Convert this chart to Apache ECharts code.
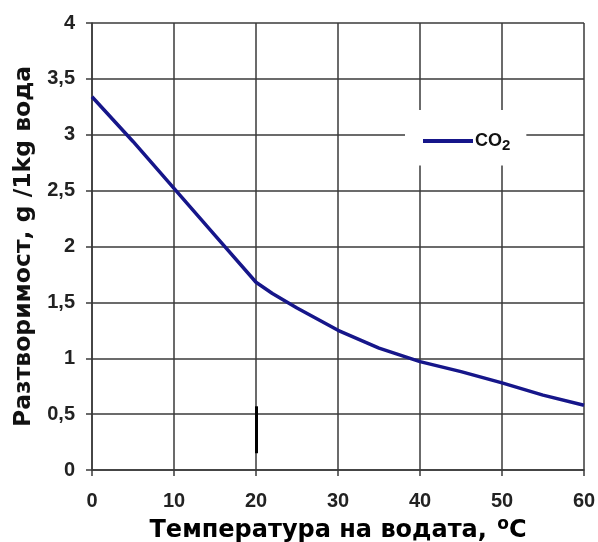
<!DOCTYPE html>
<html>
<head>
<meta charset="utf-8">
<script src="https://cdn.jsdelivr.net/npm/echarts@6/dist/echarts.min.js"></script>
<style>html,body{margin:0;padding:0;background:#fff}#c{width:598px;height:542px}</style>
</head>
<body>
<div id="c"></div>
<script>
var temps = [0, 5, 10, 15, 20, 22, 25, 30, 35, 40, 45, 50, 55, 60];
var co2 = [3.34, 2.94, 2.52, 2.1, 1.68, 1.58, 1.45, 1.25, 1.09, 0.97, 0.88, 0.78, 0.67, 0.58];
var xTicks = [0, 10, 20, 30, 40, 50, 60];
var yTicks = [0, 0.5, 1, 1.5, 2, 2.5, 3, 3.5, 4];
var markX = 20, markY = [0.15, 0.57];

var chart = echarts.init(document.getElementById('c'));
var grid = '#3a3a3a';
chart.setOption({
  animation: false,
  backgroundColor: '#fff',
  grid: { left: 92, right: 14, top: 23, bottom: 72, outerBoundsMode: 'none', containLabel: false },
  legend: {
    left: 405, top: 110,
    padding: [22, 16, 12, 18],
    backgroundColor: '#fff',
    itemWidth: 50, itemHeight: 4, itemGap: 4,
    data: [{ name: 'CO2', icon: 'rect' }],
    formatter: function () { return 'CO{sub|2}'; },
    textStyle: {
      fontFamily: 'Liberation Sans', fontWeight: 'bold', fontSize: 18, color: '#111',
      padding: [0, 0, 0, -3],
      rich: { sub: { fontFamily: 'Liberation Sans', fontWeight: 'bold', fontSize: 15, color: '#111', padding: [10, 0, 0, 0] } }
    }
  },
  xAxis: {
    type: 'value', min: xTicks[0], max: xTicks[xTicks.length - 1], interval: 10,
    name: 'Температура на водата, {sup|o}C', nameLocation: 'middle', nameGap: 46,
    nameTextStyle: {
      fontFamily: 'DejaVu Sans', fontWeight: 'bold', fontSize: 24, color: '#000',
      rich: { sup: { fontFamily: 'DejaVu Sans', fontWeight: 'bold', fontSize: 17, color: '#000', padding: [0, 0, 12, 2] } }
    },
    axisLine: { show: true, lineStyle: { color: grid, width: 1.5 } },
    axisTick: { show: true, length: 6, lineStyle: { color: grid, width: 1.5 } },
    splitLine: { show: true, lineStyle: { color: grid, width: 1.5 } },
    axisLabel: { margin: 21, fontFamily: 'Liberation Sans', fontWeight: 'bold', fontSize: 20, color: '#222' }
  },
  yAxis: {
    type: 'value', min: yTicks[0], max: yTicks[yTicks.length - 1], interval: 0.5,
    name: 'Разтворимост, g /1kg вода', nameLocation: 'middle', nameGap: 55,
    nameTextStyle: { fontFamily: 'DejaVu Sans', fontWeight: 'bold', fontSize: 23.5, color: '#111' },
    axisLine: { show: true, lineStyle: { color: grid, width: 1.5 } },
    axisTick: { show: true, length: 6, lineStyle: { color: grid, width: 1.5 } },
    splitLine: { show: true, lineStyle: { color: grid, width: 1.5 } },
    axisLabel: {
      margin: 17, fontFamily: 'Liberation Sans', fontWeight: 'bold', fontSize: 20, color: '#222',
      formatter: function (v) { return String(v).replace('.', ','); }
    }
  },
  series: [{
    name: 'CO2', type: 'line', symbol: 'none', smooth: false,
    data: temps.map(function (t, i) { return [t, co2[i]]; }),
    lineStyle: { color: '#16168a', width: 3.5 },
    itemStyle: { color: '#16168a' },
    markLine: {
      silent: true, symbol: 'none', label: { show: false },
      lineStyle: { color: '#000', width: 3, type: 'solid' },
      data: [[{ coord: [markX, markY[0]] }, { coord: [markX, markY[1]] }]]
    }
  }]
});
</script>
</body>
</html>
